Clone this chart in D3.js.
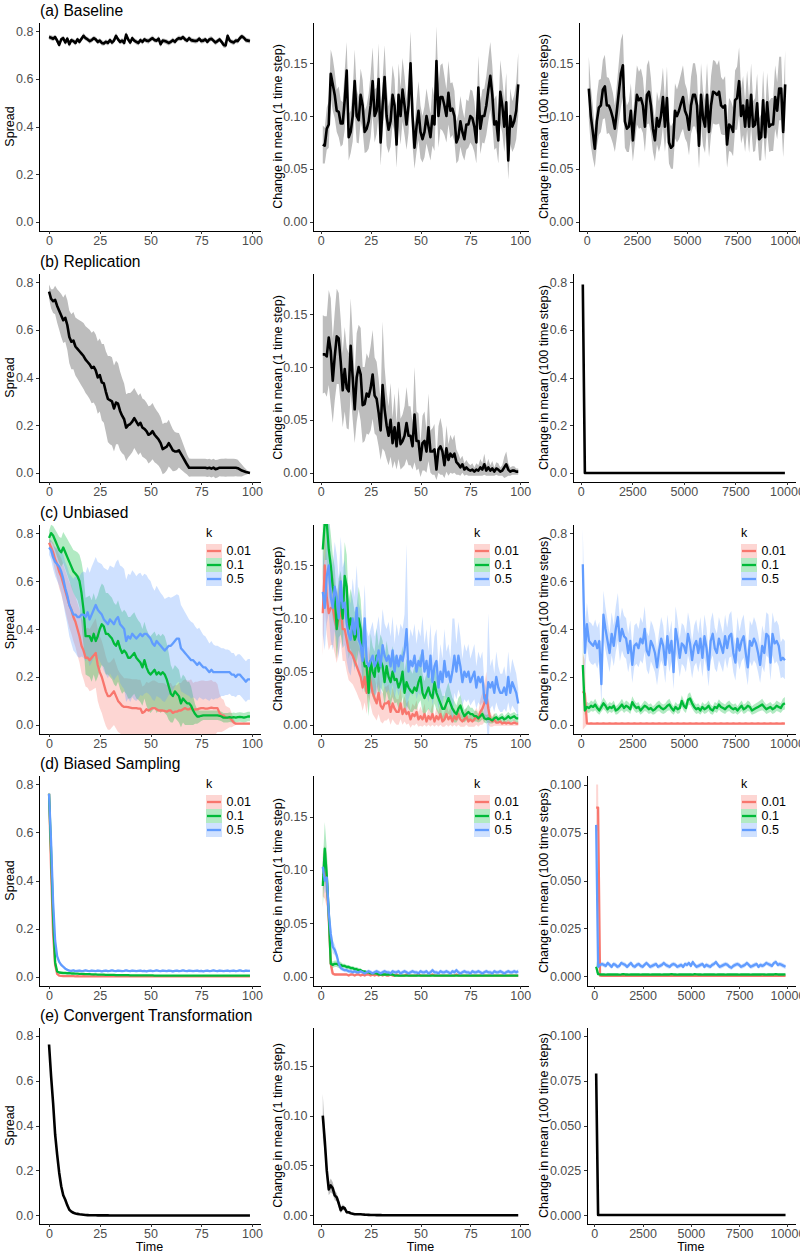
<!DOCTYPE html>
<html><head><meta charset="utf-8">
<script src="https://cdn.jsdelivr.net/npm/d3@7"></script>
<style>body{margin:0;background:#fff}svg{display:block}text{font-family:"Liberation Sans",Arial,sans-serif}</style>
</head><body><svg id="c" width="800" height="1257"></svg>
<script>
// ---------------- DATA ----------------
const rowTitles = ["(a) Baseline","(b) Replication","(c) Unbiased","(d) Biased Sampling","(e) Convergent Transformation"];
const yLabels = ["Spread","Change in mean (1 time step)","Change in mean (100 time steps)"];
const kLevels = ["0.01","0.1","0.5"];
const xTicksShort = [0,25,50,75,100];
const xTicksLong = [0,2500,5000,7500,10000];
const spreadTicks = [0,0.2,0.4,0.6,0.8];
const stepTicks = [0,0.05,0.10,0.15];
const smallTicks = [0,0.025,0.05,0.075,0.1];

// (a) Baseline
const aS = [0.775,0.772,0.768,0.775,0.760,0.742,0.765,0.770,0.752,0.768,
0.745,0.762,0.758,0.750,0.765,0.755,0.768,0.780,0.770,0.765,
0.758,0.762,0.770,0.765,0.755,0.760,0.750,0.748,0.755,0.750,
0.762,0.752,0.760,0.780,0.765,0.755,0.760,0.750,0.785,0.765,
0.752,0.770,0.760,0.755,0.750,0.762,0.755,0.765,0.760,0.758,
0.765,0.770,0.762,0.760,0.768,0.745,0.760,0.758,0.755,0.750,
0.755,0.762,0.755,0.765,0.770,0.768,0.775,0.765,0.760,0.770,
0.762,0.760,0.758,0.760,0.768,0.758,0.760,0.765,0.755,0.765,
0.768,0.760,0.752,0.758,0.765,0.755,0.742,0.740,0.780,0.760,
0.755,0.752,0.760,0.758,0.770,0.778,0.772,0.762,0.760,0.758];
const aS_sd = [0.010,0.010,0.011,0.010,0.012,0.011,0.010,0.010,0.011,0.010,
0.012,0.010,0.010,0.011,0.010,0.011,0.010,0.012,0.010,0.010,
0.011,0.010,0.010,0.011,0.010,0.010,0.011,0.010,0.010,0.011,
0.010,0.011,0.010,0.012,0.010,0.010,0.011,0.010,0.012,0.010,
0.011,0.010,0.010,0.011,0.010,0.010,0.011,0.010,0.010,0.011,
0.010,0.011,0.010,0.010,0.011,0.012,0.010,0.010,0.011,0.010,
0.010,0.011,0.010,0.010,0.011,0.010,0.010,0.011,0.010,0.010,
0.011,0.010,0.010,0.011,0.010,0.010,0.011,0.010,0.010,0.011,
0.010,0.010,0.011,0.010,0.010,0.011,0.012,0.012,0.011,0.010,
0.010,0.011,0.010,0.010,0.011,0.010,0.010,0.011,0.010,0.010];
const aC1 = [0.073,0.072,0.088,0.092,0.140,0.130,0.120,0.105,0.104,0.093,
0.093,0.115,0.143,0.080,0.085,0.100,0.133,0.100,0.096,0.120,
0.110,0.085,0.088,0.095,0.110,0.133,0.100,0.105,0.135,0.075,
0.110,0.137,0.100,0.087,0.095,0.120,0.110,0.073,0.120,0.100,
0.125,0.110,0.092,0.110,0.150,0.100,0.070,0.090,0.105,0.085,
0.078,0.085,0.100,0.090,0.080,0.100,0.092,0.152,0.100,0.118,
0.118,0.110,0.100,0.122,0.105,0.107,0.100,0.075,0.080,0.095,
0.085,0.078,0.092,0.092,0.100,0.098,0.090,0.075,0.127,0.088,
0.100,0.100,0.110,0.125,0.138,0.120,0.092,0.095,0.077,0.123,
0.110,0.090,0.113,0.058,0.100,0.090,0.095,0.105,0.130];
const aC1_sd = [0.018,0.017,0.020,0.022,0.023,0.025,0.022,0.020,0.024,0.022,
0.020,0.028,0.027,0.022,0.020,0.024,0.030,0.025,0.022,0.025,
0.024,0.020,0.022,0.026,0.030,0.032,0.025,0.022,0.034,0.022,
0.025,0.030,0.028,0.022,0.024,0.028,0.025,0.022,0.030,0.027,
0.030,0.028,0.024,0.026,0.030,0.028,0.020,0.024,0.028,0.025,
0.022,0.024,0.026,0.024,0.022,0.028,0.025,0.033,0.030,0.030,
0.032,0.028,0.025,0.030,0.026,0.025,0.024,0.020,0.022,0.024,
0.022,0.020,0.024,0.022,0.025,0.026,0.024,0.020,0.030,0.024,
0.025,0.026,0.028,0.030,0.032,0.028,0.024,0.025,0.022,0.030,
0.026,0.024,0.028,0.018,0.026,0.024,0.025,0.027,0.030];
const aC3 = [0.126,0.100,0.085,0.069,0.095,0.108,0.110,0.125,0.128,0.110,
0.110,0.105,0.098,0.088,0.105,0.123,0.140,0.148,0.095,0.088,
0.090,0.105,0.077,0.100,0.120,0.115,0.117,0.110,0.090,0.120,
0.123,0.110,0.088,0.077,0.098,0.090,0.100,0.118,0.090,0.117,
0.075,0.070,0.072,0.105,0.100,0.105,0.112,0.118,0.105,0.100,
0.087,0.110,0.120,0.120,0.110,0.072,0.120,0.098,0.090,0.120,
0.085,0.110,0.123,0.122,0.120,0.123,0.110,0.108,0.110,0.073,
0.092,0.090,0.085,0.115,0.117,0.133,0.100,0.110,0.090,0.115,
0.090,0.120,0.090,0.092,0.112,0.078,0.080,0.115,0.080,0.113,
0.090,0.092,0.092,0.118,0.105,0.126,0.126,0.085,0.130];
const aC3_sd = [0.030,0.028,0.025,0.018,0.024,0.026,0.025,0.028,0.030,0.027,
0.026,0.025,0.024,0.022,0.025,0.028,0.032,0.030,0.025,0.022,
0.024,0.026,0.020,0.025,0.028,0.027,0.028,0.026,0.024,0.028,
0.030,0.026,0.022,0.020,0.025,0.024,0.026,0.028,0.024,0.030,
0.020,0.020,0.022,0.026,0.025,0.027,0.028,0.030,0.026,0.025,
0.024,0.027,0.030,0.030,0.028,0.022,0.030,0.026,0.025,0.030,
0.024,0.028,0.030,0.030,0.028,0.030,0.027,0.026,0.028,0.022,
0.025,0.024,0.023,0.028,0.030,0.032,0.026,0.028,0.024,0.028,
0.025,0.030,0.024,0.025,0.028,0.020,0.022,0.028,0.022,0.028,
0.024,0.025,0.025,0.030,0.027,0.030,0.030,0.024,0.032];

// (b) Replication
const bS = [0.760,0.730,0.720,0.725,0.700,0.680,0.660,0.640,0.650,0.620,
0.570,0.550,0.555,0.530,0.520,0.510,0.500,0.490,0.475,0.465,
0.455,0.440,0.445,0.430,0.400,0.410,0.380,0.375,0.340,0.310,
0.305,0.300,0.270,0.295,0.290,0.260,0.240,0.225,0.190,0.200,
0.205,0.215,0.230,0.215,0.200,0.210,0.190,0.185,0.175,0.160,
0.165,0.175,0.160,0.150,0.140,0.125,0.100,0.105,0.110,0.125,
0.110,0.095,0.090,0.090,0.095,0.080,0.065,0.050,0.035,0.022,
0.022,0.022,0.022,0.022,0.022,0.022,0.022,0.022,0.020,0.022,
0.018,0.022,0.016,0.018,0.022,0.022,0.022,0.022,0.022,0.022,
0.022,0.022,0.022,0.020,0.015,0.010,0.007,0.004,0.002,0.000];
const bS_sd = [0.030,0.040,0.050,0.060,0.070,0.080,0.090,0.095,0.100,0.105,
0.110,0.115,0.120,0.122,0.125,0.130,0.135,0.138,0.140,0.142,
0.145,0.148,0.150,0.150,0.152,0.153,0.160,0.165,0.170,0.180,
0.185,0.185,0.180,0.175,0.170,0.165,0.158,0.150,0.140,0.135,
0.130,0.128,0.126,0.125,0.125,0.124,0.122,0.122,0.120,0.120,
0.118,0.118,0.115,0.112,0.110,0.108,0.105,0.105,0.100,0.098,
0.092,0.088,0.082,0.078,0.072,0.066,0.058,0.050,0.042,0.038,
0.037,0.037,0.037,0.037,0.037,0.037,0.037,0.037,0.037,0.037,
0.037,0.037,0.038,0.037,0.036,0.037,0.037,0.038,0.037,0.037,
0.037,0.037,0.036,0.035,0.030,0.025,0.018,0.012,0.006,0.003];
const bC1 = [0.112,0.112,0.110,0.128,0.115,0.087,0.110,0.129,0.127,0.105,
0.078,0.098,0.080,0.077,0.120,0.090,0.060,0.090,0.100,0.093,
0.064,0.065,0.075,0.072,0.080,0.093,0.073,0.070,0.057,0.040,
0.083,0.060,0.045,0.035,0.050,0.028,0.043,0.025,0.047,0.027,
0.030,0.035,0.047,0.035,0.035,0.025,0.055,0.030,0.030,0.012,
0.028,0.030,0.020,0.043,0.020,0.020,0.022,0.003,0.022,0.025,
0.020,0.007,0.023,0.012,0.018,0.015,0.018,0.010,0.008,0.005,
0.008,0.003,0.005,0.003,0.002,0.003,0.001,0.003,0.002,0.005,
0.003,0.008,0.002,0.005,0.002,0.004,0.001,0.004,0.003,0.001,
0.002,0.005,0.008,0.003,0.001,0.002,0.002,0.001,0.001];
const bC1_sd = [0.037,0.036,0.038,0.045,0.050,0.040,0.042,0.045,0.043,0.040,
0.035,0.040,0.038,0.036,0.045,0.040,0.032,0.042,0.040,0.044,
0.036,0.035,0.038,0.036,0.040,0.042,0.036,0.035,0.032,0.028,
0.060,0.040,0.032,0.028,0.035,0.024,0.032,0.022,0.034,0.024,
0.025,0.028,0.034,0.028,0.028,0.022,0.045,0.028,0.026,0.016,
0.026,0.028,0.020,0.032,0.020,0.022,0.024,0.010,0.022,0.027,
0.022,0.012,0.022,0.015,0.018,0.016,0.018,0.012,0.010,0.008,
0.008,0.006,0.007,0.006,0.005,0.006,0.004,0.006,0.005,0.008,
0.006,0.010,0.005,0.008,0.005,0.007,0.004,0.006,0.006,0.004,
0.005,0.010,0.012,0.006,0.004,0.004,0.004,0.003,0.003];
const bC3 = [0.790,0,0,0,0,0,0,0,0,0,
0,0,0,0,0,0,0,0,0,0, 0,0,0,0,0,0,0,0,0,0, 0,0,0,0,0,0,0,0,0,0,
0,0,0,0,0,0,0,0,0,0, 0,0,0,0,0,0,0,0,0,0, 0,0,0,0,0,0,0,0,0,0,
0,0,0,0,0,0,0,0,0,0, 0,0,0,0,0,0,0,0,0,0, 0,0,0,0,0,0,0,0,0];

// (c) Unbiased: k = 0.01 (r), 0.1 (g), 0.5 (b)
const cS_r = [0.760,0.740,0.720,0.690,0.670,0.640,0.620,0.590,0.560,0.530,
0.500,0.480,0.450,0.430,0.400,0.370,0.330,0.310,0.280,0.280,
0.270,0.280,0.290,0.300,0.250,0.220,0.200,0.170,0.140,0.120,
0.120,0.130,0.140,0.120,0.100,0.090,0.080,0.075,0.075,0.074,
0.072,0.070,0.070,0.070,0.068,0.068,0.050,0.055,0.065,0.060,
0.065,0.070,0.070,0.065,0.060,0.060,0.060,0.058,0.055,0.060,
0.060,0.050,0.055,0.055,0.060,0.060,0.065,0.070,0.065,0.065,
0.070,0.060,0.065,0.065,0.068,0.070,0.070,0.068,0.068,0.070,
0.072,0.070,0.070,0.070,0.050,0.040,0.040,0.030,0.030,0.030,
0.020,0.010,0.005,0.005,0.005,0.005,0.005,0.005,0.005,0.005];
const cS_r_sd = [0.020,0.030,0.040,0.050,0.060,0.070,0.075,0.080,0.085,0.090,
0.095,0.100,0.100,0.105,0.110,0.110,0.115,0.120,0.120,0.125,
0.130,0.135,0.140,0.145,0.150,0.150,0.150,0.150,0.145,0.140,
0.140,0.140,0.140,0.135,0.130,0.125,0.125,0.120,0.120,0.120,
0.120,0.120,0.120,0.120,0.120,0.120,0.110,0.110,0.115,0.115,
0.115,0.115,0.115,0.115,0.115,0.115,0.115,0.115,0.110,0.115,
0.115,0.110,0.110,0.110,0.115,0.115,0.120,0.120,0.120,0.120,
0.120,0.115,0.115,0.115,0.115,0.115,0.115,0.115,0.115,0.115,
0.115,0.110,0.110,0.100,0.080,0.070,0.065,0.050,0.045,0.040,
0.030,0.015,0.005,0.005,0.005,0.005,0.005,0.005,0.005,0.005];
const cS_g = [0.780,0.800,0.790,0.770,0.750,0.730,0.720,0.740,0.720,0.700,
0.680,0.660,0.640,0.630,0.620,0.600,0.550,0.480,0.370,0.370,
0.370,0.350,0.380,0.350,0.370,0.400,0.420,0.410,0.380,0.380,
0.370,0.360,0.340,0.330,0.350,0.320,0.300,0.310,0.300,0.280,
0.280,0.290,0.300,0.280,0.270,0.260,0.240,0.270,0.240,0.220,
0.210,0.220,0.230,0.210,0.220,0.210,0.220,0.210,0.190,0.160,
0.130,0.120,0.140,0.130,0.120,0.090,0.110,0.100,0.090,0.090,
0.080,0.060,0.045,0.035,0.035,0.038,0.040,0.040,0.040,0.040,
0.040,0.040,0.040,0.040,0.038,0.035,0.030,0.030,0.030,0.032,
0.030,0.032,0.030,0.032,0.033,0.032,0.030,0.032,0.035,0.035];
const cS_g_sd = [0.030,0.035,0.040,0.045,0.050,0.055,0.060,0.065,0.070,0.075,
0.080,0.085,0.090,0.095,0.100,0.110,0.130,0.150,0.160,0.165,
0.170,0.170,0.170,0.170,0.170,0.170,0.170,0.170,0.170,0.170,
0.170,0.170,0.170,0.170,0.170,0.170,0.170,0.170,0.170,0.170,
0.170,0.170,0.170,0.170,0.165,0.165,0.160,0.160,0.160,0.160,
0.160,0.160,0.160,0.160,0.160,0.160,0.160,0.160,0.150,0.140,
0.120,0.110,0.110,0.110,0.110,0.100,0.100,0.100,0.090,0.090,
0.080,0.060,0.040,0.030,0.025,0.022,0.020,0.020,0.020,0.020,
0.020,0.020,0.020,0.020,0.020,0.020,0.020,0.020,0.020,0.020,
0.020,0.020,0.020,0.020,0.020,0.020,0.020,0.020,0.020,0.020];
const cS_b = [0.740,0.730,0.700,0.680,0.670,0.660,0.640,0.610,0.570,0.540,
0.500,0.480,0.460,0.460,0.450,0.450,0.460,0.460,0.450,0.470,
0.440,0.460,0.480,0.500,0.480,0.470,0.460,0.440,0.430,0.420,
0.440,0.430,0.420,0.440,0.450,0.420,0.410,0.400,0.350,0.370,
0.360,0.380,0.370,0.360,0.370,0.380,0.370,0.380,0.380,0.370,
0.360,0.340,0.330,0.350,0.340,0.330,0.320,0.310,0.320,0.330,
0.330,0.340,0.350,0.360,0.360,0.320,0.310,0.300,0.290,0.280,
0.270,0.270,0.260,0.250,0.260,0.250,0.240,0.240,0.230,0.220,
0.230,0.220,0.220,0.220,0.220,0.220,0.220,0.220,0.220,0.220,
0.210,0.210,0.200,0.210,0.210,0.200,0.190,0.180,0.190,0.190];
const cS_b_sd = [0.030,0.040,0.050,0.060,0.070,0.080,0.090,0.100,0.110,0.120,
0.130,0.140,0.150,0.160,0.165,0.170,0.175,0.180,0.185,0.190,
0.195,0.200,0.200,0.200,0.200,0.205,0.210,0.215,0.220,0.225,
0.225,0.230,0.235,0.240,0.240,0.245,0.250,0.250,0.255,0.260,
0.265,0.265,0.265,0.260,0.260,0.255,0.250,0.250,0.245,0.240,
0.240,0.235,0.230,0.230,0.225,0.220,0.220,0.215,0.210,0.205,
0.200,0.195,0.190,0.185,0.180,0.180,0.175,0.170,0.165,0.160,
0.160,0.155,0.150,0.150,0.145,0.140,0.135,0.130,0.125,0.120,
0.120,0.115,0.110,0.110,0.105,0.100,0.100,0.095,0.095,0.090,
0.090,0.090,0.085,0.085,0.085,0.085,0.085,0.085,0.085,0.085];
const cC1_r = [0.105,0.150,0.120,0.105,0.110,0.110,0.100,0.090,0.100,0.110,
0.090,0.090,0.080,0.070,0.068,0.065,0.060,0.055,0.050,0.045,
0.035,0.045,0.030,0.050,0.040,0.030,0.025,0.020,0.030,0.018,
0.015,0.020,0.020,0.022,0.012,0.020,0.015,0.012,0.012,0.020,
0.010,0.015,0.010,0.012,0.005,0.010,0.008,0.012,0.005,0.008,
0.005,0.010,0.003,0.008,0.005,0.010,0.003,0.008,0.005,0.010,
0.003,0.005,0.010,0.005,0.008,0.003,0.008,0.005,0.010,0.005,
0.003,0.005,0.008,0.003,0.005,0.003,0.005,0.008,0.005,0.012,
0.015,0.020,0.028,0.015,0.005,0.003,0.005,0.002,0.002,0.003,
0.001,0.002,0.001,0.002,0.001,0.001,0.002,0.001,0.001];
const cC1_r_sd = [0.040,0.040,0.035,0.035,0.035,0.035,0.033,0.032,0.032,0.032,
0.030,0.030,0.030,0.028,0.028,0.027,0.026,0.025,0.025,0.024,
0.022,0.024,0.020,0.024,0.022,0.020,0.018,0.016,0.020,0.015,
0.014,0.016,0.016,0.016,0.012,0.015,0.013,0.012,0.012,0.015,
0.010,0.012,0.010,0.011,0.008,0.010,0.009,0.011,0.007,0.009,
0.007,0.010,0.005,0.008,0.007,0.010,0.005,0.008,0.007,0.010,
0.005,0.007,0.010,0.007,0.008,0.005,0.008,0.007,0.010,0.007,
0.005,0.007,0.008,0.005,0.007,0.005,0.007,0.008,0.007,0.012,
0.015,0.018,0.022,0.015,0.007,0.005,0.006,0.003,0.003,0.004,
0.002,0.003,0.002,0.003,0.002,0.002,0.003,0.002,0.002];
const cC1_g = [0.165,0.190,0.190,0.165,0.150,0.130,0.120,0.090,0.110,0.115,
0.100,0.140,0.130,0.090,0.100,0.090,0.080,0.085,0.100,0.090,
0.065,0.055,0.055,0.030,0.060,0.050,0.045,0.065,0.050,0.060,
0.055,0.040,0.055,0.045,0.040,0.050,0.042,0.043,0.035,0.040,
0.050,0.030,0.040,0.035,0.032,0.030,0.035,0.032,0.040,0.045,
0.030,0.025,0.030,0.035,0.028,0.025,0.040,0.030,0.025,0.020,
0.015,0.015,0.020,0.025,0.020,0.015,0.012,0.010,0.015,0.018,
0.012,0.008,0.010,0.012,0.010,0.010,0.008,0.008,0.006,0.008,
0.010,0.006,0.005,0.006,0.005,0.004,0.006,0.007,0.005,0.006,
0.007,0.005,0.006,0.008,0.006,0.007,0.008,0.006,0.006];
const cC1_g_sd = [0.030,0.035,0.035,0.032,0.030,0.030,0.028,0.028,0.028,0.030,
0.028,0.032,0.030,0.028,0.028,0.028,0.026,0.026,0.030,0.028,
0.025,0.024,0.024,0.022,0.026,0.024,0.024,0.026,0.024,0.025,
0.024,0.022,0.024,0.022,0.022,0.024,0.022,0.022,0.020,0.022,
0.024,0.020,0.022,0.020,0.020,0.018,0.020,0.018,0.020,0.022,
0.018,0.016,0.018,0.020,0.016,0.016,0.020,0.016,0.015,0.014,
0.012,0.012,0.014,0.015,0.012,0.010,0.010,0.008,0.010,0.010,
0.008,0.006,0.006,0.007,0.006,0.006,0.005,0.005,0.004,0.005,
0.005,0.004,0.004,0.004,0.004,0.003,0.004,0.004,0.003,0.004,
0.004,0.003,0.004,0.004,0.004,0.004,0.004,0.004,0.004];
const cC1_b = [0.125,0.110,0.140,0.150,0.120,0.110,0.130,0.120,0.100,0.135,
0.110,0.115,0.095,0.085,0.080,0.100,0.085,0.110,0.080,0.075,
0.060,0.100,0.060,0.055,0.060,0.065,0.055,0.060,0.070,0.055,
0.075,0.065,0.060,0.065,0.055,0.070,0.050,0.065,0.055,0.065,
0.060,0.070,0.090,0.050,0.060,0.055,0.065,0.050,0.060,0.055,
0.070,0.050,0.060,0.045,0.065,0.040,0.055,0.060,0.035,0.050,
0.040,0.060,0.045,0.050,0.040,0.050,0.065,0.050,0.065,0.055,
0.040,0.050,0.045,0.050,0.040,0.045,0.050,0.035,0.045,0.040,
0.045,0.025,0.020,0.040,0.035,0.040,0.030,0.045,0.035,0.030,
0.030,0.035,0.028,0.045,0.030,0.040,0.035,0.030,0.020];
const cC1_b_sd = [0.040,0.040,0.045,0.045,0.040,0.040,0.042,0.040,0.038,0.042,
0.038,0.040,0.035,0.035,0.034,0.038,0.035,0.040,0.034,0.032,
0.030,0.032,0.030,0.028,0.030,0.032,0.028,0.030,0.032,0.028,
0.034,0.030,0.030,0.032,0.028,0.032,0.026,0.030,0.028,0.030,
0.030,0.034,0.080,0.026,0.030,0.028,0.030,0.026,0.030,0.028,
0.032,0.026,0.030,0.024,0.030,0.022,0.028,0.030,0.020,0.026,
0.022,0.030,0.024,0.026,0.022,0.050,0.035,0.026,0.032,0.028,
0.022,0.026,0.024,0.026,0.022,0.024,0.026,0.020,0.024,0.022,
0.024,0.016,0.014,0.065,0.020,0.022,0.018,0.024,0.020,0.018,
0.018,0.020,0.016,0.024,0.018,0.022,0.020,0.018,0.014];
const cC3_r = [0.140,0.130,0.006,0.005,0.006,0.005,0.005,0.006,0.005,0.005,
0.006,0.005,0.005,0.006,0.005,0.005,0.006,0.005,0.005,0.006,
0.005,0.005,0.006,0.005,0.005,0.006,0.005,0.005,0.006,0.005,
0.005,0.006,0.005,0.005,0.006,0.005,0.005,0.006,0.005,0.005,
0.006,0.005,0.005,0.006,0.005,0.005,0.006,0.005,0.005,0.006,
0.005,0.005,0.006,0.005,0.005,0.006,0.005,0.005,0.006,0.005,
0.005,0.006,0.005,0.005,0.006,0.005,0.005,0.006,0.005,0.005,
0.006,0.005,0.005,0.006,0.005,0.005,0.006,0.005,0.005,0.006,
0.005,0.005,0.006,0.005,0.005,0.006,0.005,0.005,0.006,0.005,
0.005,0.006,0.005,0.005,0.006,0.005,0.005,0.006,0.005];
const cC3_r_sd = [0.160,0.140,0.005,0.004,0.004,0.004,0.004,0.004,0.004,0.004,
0.004,0.004,0.004,0.004,0.004,0.004,0.004,0.004,0.004,0.004,
0.004,0.004,0.004,0.004,0.004,0.004,0.004,0.004,0.004,0.004,
0.004,0.004,0.004,0.004,0.004,0.004,0.004,0.004,0.004,0.004,
0.004,0.004,0.004,0.004,0.004,0.004,0.004,0.004,0.004,0.004,
0.004,0.004,0.004,0.004,0.004,0.004,0.004,0.004,0.004,0.004,
0.004,0.004,0.004,0.004,0.004,0.004,0.004,0.004,0.004,0.004,
0.004,0.004,0.004,0.004,0.004,0.004,0.004,0.004,0.004,0.004,
0.004,0.004,0.004,0.004,0.004,0.004,0.004,0.004,0.004,0.004,
0.004,0.004,0.004,0.004,0.004,0.004,0.004,0.004,0.004];
const cC3_g = [0.250,0.060,0.075,0.070,0.080,0.075,0.085,0.070,0.060,0.075,
0.090,0.080,0.065,0.075,0.070,0.080,0.060,0.065,0.075,0.085,
0.070,0.080,0.075,0.065,0.095,0.080,0.070,0.075,0.060,0.070,
0.080,0.075,0.065,0.070,0.060,0.065,0.075,0.080,0.070,0.065,
0.070,0.080,0.085,0.070,0.060,0.075,0.065,0.070,0.100,0.080,
0.070,0.105,0.110,0.090,0.075,0.065,0.070,0.060,0.075,0.065,
0.070,0.080,0.065,0.060,0.075,0.070,0.085,0.075,0.070,0.065,
0.075,0.080,0.070,0.065,0.070,0.060,0.070,0.080,0.065,0.070,
0.080,0.075,0.060,0.065,0.070,0.075,0.080,0.085,0.075,0.065,
0.070,0.075,0.065,0.070,0.080,0.075,0.070,0.085,0.090];
const cC3_g_sd = [0.120,0.020,0.022,0.020,0.022,0.020,0.024,0.020,0.018,0.020,
0.024,0.022,0.020,0.020,0.020,0.022,0.018,0.020,0.020,0.024,
0.020,0.022,0.020,0.020,0.024,0.022,0.020,0.020,0.018,0.020,
0.022,0.020,0.020,0.020,0.018,0.020,0.020,0.022,0.020,0.020,
0.020,0.022,0.024,0.020,0.018,0.020,0.020,0.020,0.024,0.022,
0.020,0.024,0.026,0.022,0.020,0.020,0.020,0.018,0.020,0.020,
0.020,0.022,0.020,0.018,0.020,0.020,0.022,0.020,0.020,0.020,
0.020,0.022,0.020,0.020,0.020,0.018,0.020,0.022,0.020,0.020,
0.022,0.020,0.018,0.020,0.020,0.020,0.022,0.024,0.020,0.020,
0.020,0.020,0.020,0.020,0.022,0.020,0.020,0.024,0.026];
const cC3_b = [0.670,0.300,0.420,0.350,0.340,0.330,0.350,0.320,0.350,0.170,
0.460,0.400,0.350,0.300,0.380,0.330,0.400,0.450,0.350,0.400,
0.370,0.360,0.300,0.350,0.250,0.330,0.340,0.320,0.360,0.340,
0.400,0.310,0.290,0.350,0.330,0.300,0.240,0.310,0.360,0.330,
0.250,0.370,0.300,0.350,0.220,0.400,0.350,0.280,0.340,0.330,
0.300,0.380,0.340,0.270,0.330,0.350,0.300,0.360,0.280,0.370,
0.320,0.230,0.350,0.380,0.320,0.300,0.360,0.330,0.300,0.370,
0.320,0.370,0.380,0.300,0.260,0.360,0.310,0.350,0.370,0.300,
0.240,0.350,0.330,0.360,0.340,0.300,0.250,0.330,0.300,0.380,
0.370,0.260,0.380,0.340,0.350,0.330,0.270,0.280,0.270];
const cC3_b_sd = [0.150,0.100,0.090,0.080,0.085,0.080,0.090,0.085,0.080,0.090,
0.100,0.090,0.085,0.080,0.090,0.085,0.095,0.100,0.085,0.090,
0.085,0.085,0.080,0.085,0.075,0.085,0.085,0.080,0.090,0.085,
0.095,0.080,0.080,0.085,0.085,0.080,0.075,0.080,0.090,0.085,
0.075,0.090,0.080,0.085,0.070,0.095,0.085,0.080,0.085,0.085,
0.080,0.090,0.085,0.075,0.085,0.090,0.080,0.090,0.080,0.090,
0.085,0.070,0.085,0.090,0.085,0.080,0.090,0.085,0.080,0.090,
0.085,0.090,0.095,0.080,0.075,0.090,0.080,0.085,0.090,0.080,
0.075,0.085,0.085,0.090,0.085,0.080,0.075,0.085,0.080,0.090,
0.090,0.075,0.090,0.085,0.085,0.085,0.075,0.080,0.080];

// (d) Biased Sampling
const dS_r = [0.760,0.450,0.180,0.050,0.012,0.005,0.004,0.003,0.003,0.003,
0.003,0.003,0.003,0.002,0.003,0.002,0.002,0.003,0.002,0.002,
0.002,0.002,0.003,0.002,0.002,0.002,0.002,0.003,0.002,0.002,
0.002,0.002,0.002,0.002,0.003,0.002,0.002,0.002,0.002,0.002,
0.002,0.003,0.002,0.002,0.002,0.002,0.002,0.002,0.003,0.002,
0.002,0.002,0.002,0.002,0.002,0.003,0.002,0.002,0.002,0.002,
0.002,0.002,0.003,0.002,0.002,0.002,0.002,0.002,0.002,0.002,
0.003,0.002,0.002,0.002,0.002,0.002,0.002,0.003,0.002,0.002,
0.002,0.002,0.002,0.002,0.002,0.002,0.003,0.002,0.002,0.002,
0.002,0.002,0.002,0.003,0.002,0.002,0.002,0.002,0.002,0.002];
const dS_r_sd = [0.010,0.030,0.030,0.020,0.006,0.002,0.002,0.001];
const dS_g = [0.760,0.520,0.250,0.060,0.022,0.018,0.017,0.016,0.016,0.015,
0.015,0.014,0.014,0.013,0.013,0.012,0.012,0.012,0.011,0.011,
0.011,0.010,0.010,0.010,0.009,0.009,0.009,0.009,0.008,0.008,
0.008,0.008,0.008,0.007,0.007,0.007,0.007,0.007,0.007,0.007,
0.006,0.006,0.006,0.006,0.006,0.006,0.006,0.006,0.006,0.006,
0.006,0.006,0.005,0.005,0.005,0.005,0.005,0.005,0.005,0.005,
0.005,0.005,0.005,0.005,0.005,0.005,0.005,0.005,0.005,0.005,
0.005,0.005,0.005,0.005,0.005,0.005,0.005,0.005,0.005,0.005,
0.005,0.005,0.005,0.005,0.005,0.005,0.005,0.005,0.005,0.005,
0.005,0.005,0.005,0.005,0.005,0.005,0.005,0.005,0.005,0.005];
const dS_g_sd = [0.010,0.030,0.030,0.020,0.006,0.003,0.003,0.003,0.003,0.003,0.002,0.002,0.002,0.002,0.002];
const dS_b = [0.760,0.560,0.310,0.150,0.085,0.062,0.050,0.042,0.034,0.029,
0.026,0.025,0.027,0.024,0.025,0.026,0.024,0.025,0.027,0.025,
0.024,0.026,0.025,0.024,0.026,0.025,0.023,0.025,0.026,0.024,
0.025,0.027,0.025,0.024,0.026,0.025,0.024,0.025,0.027,0.025,
0.024,0.026,0.025,0.024,0.025,0.026,0.024,0.025,0.023,0.025,
0.026,0.024,0.025,0.027,0.025,0.024,0.026,0.025,0.024,0.026,
0.025,0.023,0.025,0.026,0.024,0.025,0.027,0.025,0.024,0.026,
0.025,0.024,0.025,0.026,0.024,0.025,0.023,0.025,0.026,0.024,
0.025,0.027,0.025,0.024,0.026,0.025,0.024,0.025,0.026,0.024,
0.025,0.026,0.024,0.025,0.027,0.025,0.024,0.026,0.025,0.025];
const dS_b_sd = [0.010,0.030,0.030,0.020,0.012,0.008,0.006,0.005,0.005,0.005,
0.004,0.004,0.004,0.004,0.004,0.004,0.004,0.004,0.004,0.004,
0.004,0.004,0.004,0.004,0.004,0.004,0.004,0.004,0.004,0.004,
0.004,0.004,0.004,0.004,0.004,0.004,0.004,0.004,0.004,0.004,
0.004,0.004,0.004,0.004,0.004,0.004,0.004,0.004,0.004,0.004,
0.004,0.004,0.004,0.004,0.004,0.004,0.004,0.004,0.004,0.004,
0.004,0.004,0.004,0.004,0.004,0.004,0.004,0.004,0.004,0.004,
0.004,0.004,0.004,0.004,0.004,0.004,0.004,0.004,0.004,0.004,
0.004,0.004,0.004,0.004,0.004,0.004,0.004,0.004,0.004,0.004,
0.004,0.004,0.004,0.004,0.004,0.004,0.004,0.004,0.004,0.004];
const dC1_r = [0.095,0.098,0.090,0.055,0.012,0.003,0.002,0.002,0.002,0.002,
0.002,0.002,0.002,0.001,0.002,0.002,0.001,0.002,0.002,0.001,
0.002,0.001,0.002,0.002,0.001,0.002,0.001,0.002,0.001,0.002,
0.001,0.002,0.001,0.001,0.002,0.001,0.001,0.002,0.001,0.001,
0.001,0.001,0.002,0.001,0.001,0.001,0.001,0.001,0.002,0.001,
0.001,0.001,0.001,0.001,0.001,0.002,0.001,0.001,0.001,0.001,
0.001,0.001,0.001,0.001,0.001,0.001,0.001,0.002,0.001,0.001,
0.001,0.001,0.001,0.001,0.001,0.001,0.001,0.001,0.001,0.001,
0.001,0.001,0.001,0.001,0.001,0.001,0.001,0.001,0.001,0.001,
0.001,0.001,0.001,0.001,0.001,0.001,0.001,0.001,0.001];
const dC1_r_sd = [0.020,0.025,0.025,0.020,0.008,0.002,0.001,0.001];
const dC1_g = [0.085,0.120,0.095,0.060,0.012,0.011,0.012,0.012,0.011,0.011,
0.010,0.010,0.009,0.009,0.008,0.008,0.007,0.007,0.006,0.006,
0.005,0.005,0.004,0.004,0.003,0.003,0.003,0.003,0.002,0.002,
0.002,0.002,0.002,0.002,0.002,0.002,0.001,0.001,0.001,0.001,
0.001,0.001,0.001,0.001,0.001,0.001,0.001,0.001,0.001,0.001,
0.001,0.001,0.001,0.001,0.001,0.001,0.001,0.001,0.001,0.001,
0.001,0.001,0.001,0.001,0.001,0.001,0.001,0.001,0.001,0.001,
0.001,0.001,0.001,0.001,0.001,0.001,0.001,0.001,0.001,0.001,
0.001,0.001,0.001,0.001,0.001,0.001,0.001,0.001,0.001,0.001,
0.001,0.001,0.001,0.001,0.001,0.001,0.001,0.001,0.001];
const dC1_g_sd = [0.020,0.025,0.025,0.020,0.004,0.003,0.003,0.003,0.003,0.003,0.002,0.002,0.002,0.002,0.002,0.002,0.002,0.002,0.002,0.002];
const dC1_b = [0.103,0.090,0.093,0.060,0.040,0.028,0.025,0.020,0.012,0.008,
0.007,0.006,0.006,0.005,0.005,0.004,0.005,0.004,0.004,0.005,
0.004,0.003,0.004,0.005,0.004,0.003,0.004,0.005,0.004,0.003,
0.004,0.005,0.004,0.004,0.003,0.005,0.004,0.004,0.005,0.003,
0.004,0.005,0.004,0.003,0.004,0.005,0.004,0.004,0.003,0.005,
0.004,0.004,0.005,0.003,0.004,0.006,0.004,0.004,0.003,0.005,
0.004,0.004,0.005,0.004,0.003,0.005,0.004,0.006,0.004,0.003,
0.004,0.005,0.004,0.004,0.003,0.005,0.004,0.004,0.005,0.004,
0.003,0.004,0.005,0.004,0.004,0.003,0.005,0.004,0.004,0.005,
0.004,0.003,0.004,0.005,0.004,0.004,0.005,0.004,0.005];
const dC1_b_sd = [0.010,0.012,0.012,0.010,0.008,0.006,0.005,0.004,0.003,0.002,
0.002,0.002,0.002,0.002,0.002,0.002,0.002,0.002,0.002,0.002,
0.002,0.002,0.002,0.002,0.002,0.002,0.002,0.002,0.002,0.002,
0.002,0.002,0.002,0.002,0.002,0.002,0.002,0.002,0.002,0.002,
0.002,0.002,0.002,0.002,0.002,0.002,0.002,0.002,0.002,0.002,
0.002,0.002,0.002,0.002,0.002,0.002,0.002,0.002,0.002,0.002,
0.002,0.002,0.002,0.002,0.002,0.002,0.002,0.002,0.002,0.002,
0.002,0.002,0.002,0.002,0.002,0.002,0.002,0.002,0.002,0.002,
0.002,0.002,0.002,0.002,0.002,0.002,0.002,0.002,0.002,0.002,
0.002,0.002,0.002,0.002,0.002,0.002,0.002,0.002,0.002];
const dC3_r = [0.088,0.088,0.0004,0.0003,0.0003,0.0003,0.0003,0.0003,0.0003,0.0003,
0.0003,0.0003,0.0003,0.0003,0.0003,0.0003,0.0003,0.0003,0.0003,0.0003,
0.0003,0.0003,0.0003,0.0003,0.0003,0.0003,0.0003,0.0003,0.0003,0.0003,
0.0003,0.0003,0.0003,0.0003,0.0003,0.0003,0.0003,0.0003,0.0003,0.0003,
0.0003,0.0003,0.0003,0.0003,0.0003,0.0003,0.0003,0.0003,0.0003,0.0003,
0.0003,0.0003,0.0003,0.0003,0.0003,0.0003,0.0003,0.0003,0.0003,0.0003,
0.0003,0.0003,0.0003,0.0003,0.0003,0.0003,0.0003,0.0003,0.0003,0.0003,
0.0003,0.0003,0.0003,0.0003,0.0003,0.0003,0.0003,0.0003,0.0003,0.0003,
0.0003,0.0003,0.0003,0.0003,0.0003,0.0003,0.0003,0.0003,0.0003,0.0003,
0.0003,0.0003,0.0003,0.0003,0.0003,0.0003,0.0003,0.0003,0.0003];
const dC3_r_sd = [0.012,0.012,0.0003];
const dC3_g = [0.005,0.0012,0.0010,0.0011,0.0010,0.0009,0.0010,0.0011,0.0010,0.0010,
0.0011,0.0010,0.0009,0.0010,0.0012,0.0010,0.0010,0.0009,0.0010,0.0011,
0.0010,0.0010,0.0011,0.0009,0.0010,0.0010,0.0011,0.0010,0.0009,0.0010,
0.0010,0.0011,0.0010,0.0010,0.0009,0.0010,0.0011,0.0010,0.0010,0.0012,
0.0010,0.0010,0.0009,0.0010,0.0011,0.0010,0.0010,0.0011,0.0010,0.0010,
0.0009,0.0012,0.0011,0.0010,0.0010,0.0009,0.0010,0.0011,0.0010,0.0010,
0.0011,0.0010,0.0009,0.0010,0.0011,0.0010,0.0010,0.0009,0.0010,0.0011,
0.0010,0.0010,0.0011,0.0010,0.0009,0.0010,0.0010,0.0011,0.0010,0.0010,
0.0009,0.0010,0.0011,0.0010,0.0010,0.0010,0.0011,0.0010,0.0009,0.0010,
0.0011,0.0010,0.0010,0.0012,0.0010,0.0011,0.0010,0.0010,0.0011];
const dC3_g_sd = [0.003,0.0004,0.0003];
const dC3_b = [0.079,0.005,0.006,0.0065,0.006,0.0055,0.007,0.006,0.005,0.0065,
0.006,0.005,0.0055,0.007,0.0065,0.006,0.005,0.006,0.007,0.0055,
0.005,0.006,0.0065,0.0055,0.005,0.006,0.007,0.006,0.005,0.0055,
0.006,0.0065,0.005,0.0055,0.006,0.007,0.006,0.0055,0.005,0.006,
0.0065,0.006,0.005,0.0055,0.006,0.005,0.0065,0.006,0.007,0.0055,
0.0075,0.006,0.005,0.0055,0.006,0.0065,0.005,0.006,0.0055,0.005,
0.006,0.0065,0.0075,0.006,0.005,0.0055,0.006,0.0065,0.006,0.005,
0.0045,0.0055,0.006,0.0065,0.006,0.005,0.0055,0.006,0.007,0.006,
0.005,0.0055,0.006,0.0065,0.005,0.006,0.0055,0.006,0.007,0.0065,
0.006,0.0055,0.007,0.0075,0.006,0.0065,0.006,0.0055,0.005];
const dC3_b_sd = [0.010,0.0012,0.0012,0.0012,0.0012,0.0012,0.0012,0.0012,0.0012,0.0012,
0.0012,0.0012,0.0012,0.0012,0.0012,0.0012,0.0012,0.0012,0.0012,0.0012,
0.0012,0.0012,0.0012,0.0012,0.0012,0.0012,0.0012,0.0012,0.0012,0.0012,
0.0012,0.0012,0.0012,0.0012,0.0012,0.0012,0.0012,0.0012,0.0012,0.0012,
0.0012,0.0012,0.0012,0.0012,0.0012,0.0012,0.0012,0.0012,0.0012,0.0012,
0.0012,0.0012,0.0012,0.0012,0.0012,0.0012,0.0012,0.0012,0.0012,0.0012,
0.0012,0.0012,0.0012,0.0012,0.0012,0.0012,0.0012,0.0012,0.0012,0.0012,
0.0012,0.0012,0.0012,0.0012,0.0012,0.0012,0.0012,0.0012,0.0012,0.0012,
0.0012,0.0012,0.0012,0.0012,0.0012,0.0012,0.0012,0.0012,0.0012,0.0012,
0.0012,0.0012,0.0012,0.0012,0.0012,0.0012,0.0012,0.0012,0.0012];

// (e) Convergent Transformation
const eS = [0.760,0.620,0.500,0.360,0.270,0.190,0.130,0.090,0.070,0.045,
0.025,0.017,0.012,0.009,0.007,0.005,0.004,0.003,0.002,0.0015,
0.001,0.001,0.0008,0.0006,0.0005,0.0004,0.0003,0.0003,0.0002,0.0002,
0,0,0,0,0,0,0,0,0,0, 0,0,0,0,0,0,0,0,0,0, 0,0,0,0,0,0,0,0,0,0,
0,0,0,0,0,0,0,0,0,0, 0,0,0,0,0,0,0,0,0,0, 0,0,0,0,0,0,0,0,0,0,
0,0,0,0,0,0,0,0,0,0];
const eS_sd = [0.005,0.010,0.012,0.012,0.012,0.010,0.008,0.007,0.006,0.005,0.004,0.003,0.002,0.002,0.001];
const eC1 = [0.100,0.075,0.045,0.026,0.030,0.027,0.020,0.018,0.012,0.005,
0.008,0.007,0.003,0.003,0.002,0.0015,0.001,0.001,0.001,0.001,
0.0008,0.0006,0.0005,0.0004,0.0003,0.0002,0.0002,0.0001,0.0001,0.0001,
0,0,0,0,0,0,0,0,0,0, 0,0,0,0,0,0,0,0,0,0, 0,0,0,0,0,0,0,0,0,0,
0,0,0,0,0,0,0,0,0,0, 0,0,0,0,0,0,0,0,0,0, 0,0,0,0,0,0,0,0,0,0,
0,0,0,0,0,0,0,0,0];
const eC1_sd = [0.022,0.012,0.008,0.006,0.007,0.006,0.005,0.004,0.004,0.003,0.003,0.002,0.002,0.001];
const eC3 = [0.079,0,0,0,0,0,0,0,0,0,
0,0,0,0,0,0,0,0,0,0, 0,0,0,0,0,0,0,0,0,0, 0,0,0,0,0,0,0,0,0,0,
0,0,0,0,0,0,0,0,0,0, 0,0,0,0,0,0,0,0,0,0, 0,0,0,0,0,0,0,0,0,0,
0,0,0,0,0,0,0,0,0,0, 0,0,0,0,0,0,0,0,0,0, 0,0,0,0,0,0,0,0,0];

// ---------------- LAYOUT / STYLE ----------------
const svg = d3.select("#c");
const colX = [[39,260],[313,528],[579,795]];
// third column: panel left edge depends on tick-label width (separately laid-out plots)
const col3Left = {".1f":572.7, ".2f":579, ".3f":586.7};
const rowY = [[22,231],[273,482],[524,734],[775,986],[1027,1224]];
const xDom = [[-4.95,103.95],[-3.9,103.9],[-390,10390]];
const times = [d3.range(0,100), d3.range(1,100), d3.range(100,10000,100)];
const kColors = ["#F8766D","#00BA38","#619CFF"];
const spreadDom = [-0.038,0.838], stepDom = [-0.0088,0.189], smallDom = [-0.005,0.105];
const TICK_FS = 12.5, TITLE_FS = 12.5, LEG_FS = 12.5;

const P = (r,c,dom,ticks,fmt,series) => ({r,c,dom,ticks,fmt,series});
const panels = [
  P(0,0,spreadDom,spreadTicks,".1f",[[aS,aS_sd]]),
  P(0,1,stepDom,stepTicks,".2f",[[aC1,aC1_sd]]),
  P(0,2,stepDom,stepTicks,".2f",[[aC3,aC3_sd]]),
  P(1,0,spreadDom,spreadTicks,".1f",[[bS,bS_sd]]),
  P(1,1,stepDom,stepTicks,".2f",[[bC1,bC1_sd]]),
  P(1,2,spreadDom,spreadTicks,".1f",[[bC3,null]]),
  P(2,0,spreadDom,spreadTicks,".1f",[[cS_r,cS_r_sd],[cS_g,cS_g_sd],[cS_b,cS_b_sd]]),
  P(2,1,stepDom,stepTicks,".2f",[[cC1_r,cC1_r_sd],[cC1_g,cC1_g_sd],[cC1_b,cC1_b_sd]]),
  P(2,2,spreadDom,spreadTicks,".1f",[[cC3_r,cC3_r_sd],[cC3_g,cC3_g_sd],[cC3_b,cC3_b_sd]]),
  P(3,0,spreadDom,spreadTicks,".1f",[[dS_r,dS_r_sd],[dS_g,dS_g_sd],[dS_b,dS_b_sd]]),
  P(3,1,stepDom,stepTicks,".2f",[[dC1_r,dC1_r_sd],[dC1_g,dC1_g_sd],[dC1_b,dC1_b_sd]]),
  P(3,2,smallDom,smallTicks,".3f",[[dC3_r,dC3_r_sd],[dC3_g,dC3_g_sd],[dC3_b,dC3_b_sd]]),
  P(4,0,spreadDom,spreadTicks,".1f",[[eS,eS_sd]]),
  P(4,1,stepDom,stepTicks,".2f",[[eC1,eC1_sd]]),
  P(4,2,smallDom,smallTicks,".3f",[[eC3,null]])
];

// row titles
rowTitles.forEach((t,i) => {
  svg.append("text").attr("x",40).attr("y",rowY[i][0]-12).attr("dominant-baseline","central")
    .attr("font-size",15.6).attr("fill","#000").text(t);
});

panels.forEach((p,pi) => {
  const x0 = p.c === 2 ? col3Left[p.fmt] : colX[p.c][0];
  const x1 = colX[p.c][1];
  const [y0,y1] = rowY[p.r];
  const x = d3.scaleLinear().domain(xDom[p.c]).range([x0,x1]);
  const y = d3.scaleLinear().domain(p.dom).range([y1,y0]);
  const T = times[p.c];
  const multi = p.series.length > 1;
  const id = "clip"+pi;
  svg.append("clipPath").attr("id",id).append("rect")
    .attr("x",x0).attr("y",y0).attr("width",x1-x0).attr("height",y1-y0);
  const g = svg.append("g").attr("clip-path",`url(#${id})`);
  // ribbons
  p.series.forEach(([v,sd],si) => {
    if (!sd) return;
    const pts = v.map((m,i) => ({t:T[i], lo:m-(sd[i] ?? 0), hi:m+(sd[i] ?? 0)}));
    g.append("path").datum(pts)
      .attr("d", d3.area().x(d=>x(d.t)).y0(d=>y(d.lo)).y1(d=>y(d.hi)))
      .attr("fill", multi ? kColors[si] : "#bdbdbd")
      .attr("fill-opacity", multi ? 0.3 : 1);
  });
  // lines
  p.series.forEach(([v],si) => {
    g.append("path").datum(v.map((m,i)=>({t:T[i], m})))
      .attr("d", d3.line().x(d=>x(d.t)).y(d=>y(d.m)))
      .attr("fill","none").attr("stroke", multi ? kColors[si] : "#000")
      .attr("stroke-width", multi ? 2.3 : 2.6).attr("stroke-linejoin","round").attr("stroke-linecap","butt");
  });
  // axes
  const ya = svg.append("g").attr("transform",`translate(${x0},0)`)
    .call(d3.axisLeft(y).tickValues(p.ticks).tickFormat(d3.format(p.fmt)).tickSize(3).tickSizeOuter(0).tickPadding(2.5));
  const xa = svg.append("g").attr("transform",`translate(0,${y1})`)
    .call(d3.axisBottom(x).tickValues(p.c===2 ? xTicksLong : xTicksShort).tickFormat(d3.format("d")).tickSize(3).tickSizeOuter(0).tickPadding(2.5));
  [ya,xa].forEach(a => {
    a.select(".domain").attr("stroke","#000").attr("stroke-width",1).attr("shape-rendering","crispEdges");
    a.selectAll(".tick line").attr("stroke","#333").attr("stroke-width",1).attr("shape-rendering","crispEdges");
    a.selectAll(".tick text").attr("fill","#4d4d4d").attr("font-size",TICK_FS).attr("font-family",'"Liberation Sans",Arial,sans-serif');
  });
  // y title
  const ytx = [10,278,543.5][p.c];
  svg.append("text").attr("transform",`translate(${ytx},${(y0+y1)/2}) rotate(-90)`)
    .attr("text-anchor","middle").attr("dominant-baseline","central")
    .attr("font-size",TITLE_FS).attr("fill","#000").text(yLabels[p.c]);
  // x title (bottom row)
  if (p.r === 4) {
    svg.append("text").attr("x",(x0+x1)/2).attr("y",1247).attr("text-anchor","middle")
      .attr("dominant-baseline","central").attr("font-size",TITLE_FS).attr("fill","#000").text("Time");
  }
  // legend
  if (multi) {
    const lx = x1 - 54;
    svg.append("text").attr("x",lx).attr("y",y0+8.5).attr("dominant-baseline","central")
      .attr("font-size",LEG_FS).attr("fill","#000").text("k");
    kLevels.forEach((lab,j) => {
      const cy = y0 + 27 + 14*j;
      svg.append("rect").attr("x",lx).attr("y",cy-7).attr("width",16).attr("height",14)
        .attr("fill",kColors[j]).attr("fill-opacity",0.3);
      svg.append("line").attr("x1",lx+1).attr("x2",lx+15).attr("y1",cy).attr("y2",cy)
        .attr("stroke",kColors[j]).attr("stroke-width",2.3);
      svg.append("text").attr("x",lx+20.5).attr("y",cy).attr("dominant-baseline","central")
        .attr("font-size",LEG_FS).attr("fill","#000").text(lab);
    });
  }
});
</script></body></html>
